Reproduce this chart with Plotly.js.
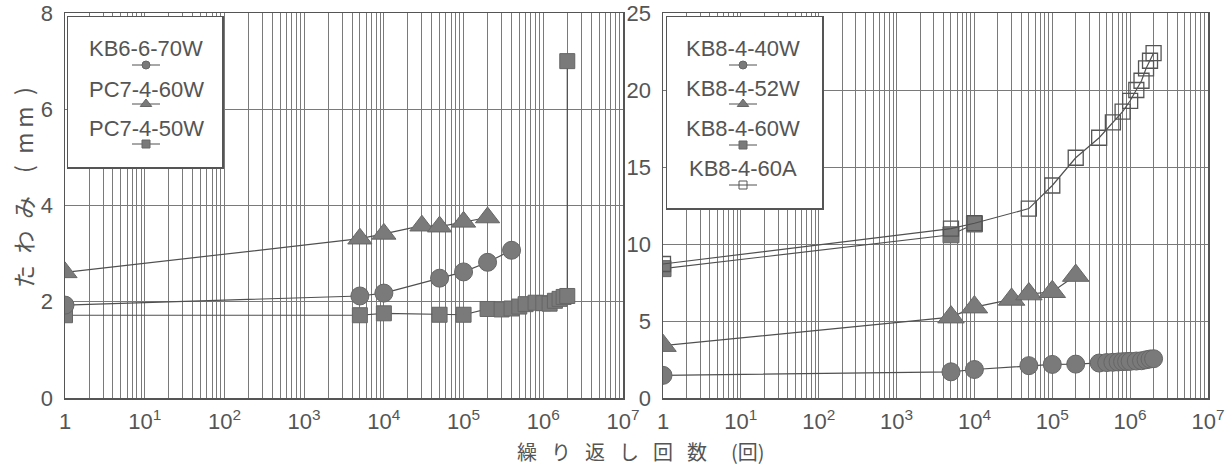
<!DOCTYPE html>
<html>
<head>
<meta charset="utf-8">
<script src="https://cdn.plot.ly/plotly-3.0.1.min.js"></script>
<style>
html,body{margin:0;padding:0;background:#fff;}
#chart{width:1229px;height:465px;}
</style>
</head>
<body>
<div id="chart"></div>
<script>
// ---------- data ----------
const decadeVals   = [1, 10, 100, 1000, 10000, 100000, 1000000, 10000000];
const decadeLabels = ['1', '10<sup>1</sup>', '10<sup>2</sup>', '10<sup>3</sup>', '10<sup>4</sup>', '10<sup>5</sup>', '10<sup>6</sup>', '10<sup>7</sup>'];

// left panel
const kb6Name = 'KB6-6-70W';
const kb6N = [1, 5000, 10000, 50000, 100000, 200000, 400000];
const kb6D = [1.93, 2.12, 2.18, 2.49, 2.62, 2.82, 3.07];

const pc60Name = 'PC7-4-60W';
const pc60N = [1, 5000, 10000, 30000, 50000, 100000, 200000];
const pc60D = [2.61, 3.31, 3.41, 3.58, 3.56, 3.66, 3.75];

const pc50Name = 'PC7-4-50W';
const pc50N = [1, 5000, 10000, 50000, 100000, 200000, 300000, 400000, 500000, 600000, 800000, 1000000, 1200000, 1400000, 1600000, 1800000, 2000000, 2000000];
const pc50D = [1.72, 1.72, 1.76, 1.73, 1.73, 1.85, 1.84, 1.86, 1.90, 1.95, 1.98, 1.97, 1.96, 2.02, 2.06, 2.10, 2.12, 7.0];

// right panel
const kb40Name = 'KB8-4-40W';
const kb40N = [1, 5000, 10000, 50000, 100000, 200000, 400000, 500000, 600000, 700000, 800000, 900000, 1000000, 1200000, 1400000, 1600000, 1800000, 2000000];
const kb40D = [1.47, 1.70, 1.85, 2.10, 2.18, 2.20, 2.27, 2.30, 2.32, 2.34, 2.36, 2.37, 2.38, 2.40, 2.42, 2.48, 2.53, 2.55];

const kb52Name = 'KB8-4-52W';
const kb52N = [1, 5000, 10000, 30000, 50000, 100000, 200000];
const kb52D = [3.4, 5.25, 5.9, 6.4, 6.75, 6.9, 7.95];

const kb60wName = 'KB8-4-60W';
const kb60wN = [1, 5000, 10000];
const kb60wD = [8.4, 10.6, 11.3];

const kb60aName = 'KB8-4-60A';
const kb60aN = [1, 5000, 10000, 50000, 100000, 200000, 400000, 600000, 800000, 1000000, 1200000, 1400000, 1600000, 1800000, 2000000];
const kb60aD = [8.7, 11.0, 11.35, 12.3, 13.8, 15.6, 16.9, 17.9, 18.6, 19.3, 20.0, 20.6, 21.4, 21.9, 22.4];

const xTitle = '繰\u2002\u2009り\u2002\u2009返\u2002\u2009し\u2002\u2009回\u2002\u2009数\u2003\u2009(回)';
const yTitle = 'た\u2002わ\u2002み\u2003(\u2002m\u2009m\u2002)';

// ---------- styling ----------
const W = 1229, H = 465;
const TXT = '#555';
const NUMFONT = "'Liberation Sans', Arial, sans-serif";
const CJKFONT = "'Noto Sans CJK JP', 'Noto Sans', sans-serif";
const GRID = '#7a7a7a';
const LINE = '#505050';
const FILL = '#7a7a7a';
const EDGE = '#666';

function px(x){ return x / W; }
function py(y){ return 1 - y / H; }

function series(n, d, name, symbol, size, xa, ya, open){
  return {
    x: n, y: d, name: name, xaxis: xa, yaxis: ya,
    type: 'scatter', mode: 'lines+markers',
    line: {color: LINE, width: 1.2},
    marker: open
      ? {symbol: symbol, size: size, color: 'rgba(0,0,0,0)', line: {color: '#555', width: 1.3}}
      : {symbol: symbol, size: size, color: FILL, line: {color: EDGE, width: 1}},
    showlegend: false, hoverinfo: 'skip'
  };
}

const traces = [
  series(pc50N, pc50D, pc50Name, 'square', 15, 'x', 'y'),
  series(pc60N, pc60D, pc60Name, 'triangle-up', 21, 'x', 'y'),
  series(kb6N,  kb6D,  kb6Name,  'circle', 18, 'x', 'y'),
  series(kb40N, kb40D, kb40Name, 'circle', 18, 'x2', 'y2'),
  series(kb52N, kb52D, kb52Name, 'triangle-up', 23, 'x2', 'y2'),
  series(kb60wN, kb60wD, kb60wName, 'square', 16, 'x2', 'y2'),
  series(kb60aN, kb60aD, kb60aName, 'square', 15, 'x2', 'y2', true)
];

// ---------- legend boxes (overlay subplots in pixel coordinates) ----------
const annotations = [];
function legendBox(items, xa, ya, cx){
  items.forEach(it => {
    annotations.push({
      xref: xa, yref: ya, x: cx, y: it.ty, text: it.name, showarrow: false,
      xanchor: 'center', yanchor: 'middle',
      font: {family: NUMFONT, size: 22, color: TXT}
    });
    traces.push({x: [cx - 14, cx + 14], y: [it.sy, it.sy], xaxis: xa, yaxis: ya, type: 'scatter', mode: 'lines',
      line: {color: LINE, width: 1}, showlegend: false, hoverinfo: 'skip'});
    traces.push({x: [cx], y: [it.sy], xaxis: xa, yaxis: ya, type: 'scatter', mode: 'markers',
      marker: it.open ? {symbol: it.sym, size: 8, color: 'rgba(0,0,0,0)', line: {color: '#555', width: 1}}
                      : {symbol: it.sym, size: it.sym === 'triangle-up' ? 10 : 8, color: FILL, line: {color: EDGE, width: 1}},
      showlegend: false, hoverinfo: 'skip'});
  });
}
legendBox([
  {name: kb6Name,  ty: 48,  sy: 65,  sym: 'circle'},
  {name: pc60Name, ty: 89,  sy: 104, sym: 'triangle-up'},
  {name: pc50Name, ty: 128, sy: 144, sym: 'square'}
], 'x3', 'y3', 146);
legendBox([
  {name: kb40Name,  ty: 48,  sy: 65,  sym: 'circle'},
  {name: kb52Name,  ty: 88,  sy: 104, sym: 'triangle-up'},
  {name: kb60wName, ty: 128, sy: 145, sym: 'square'},
  {name: kb60aName, ty: 168, sy: 185, sym: 'square', open: true}
], 'x4', 'y4', 743);

annotations.push({xref: 'paper', yref: 'paper', x: px(641), y: py(451), text: xTitle, showarrow: false,
  xanchor: 'center', yanchor: 'middle', font: {family: CJKFONT, size: 20, color: TXT}});
annotations.push({xref: 'paper', yref: 'paper', x: px(23), y: py(188), text: yTitle, showarrow: false,
  textangle: -90, xanchor: 'center', yanchor: 'middle', font: {family: CJKFONT, size: 23, color: TXT}});

function logAxis(domain, anchor){
  return {
    type: 'log', domain: domain, range: [0, 7], anchor: anchor,
    tickmode: 'array', tickvals: decadeVals, ticktext: decadeLabels,
    showgrid: true, gridcolor: GRID, gridwidth: 1,
    minor: {dtick: 'D1', showgrid: true, gridcolor: GRID, gridwidth: 1, ticks: ''},
    showline: true, mirror: true, linecolor: '#555', linewidth: 1.5,
    ticks: '', ticklabelstandoff: 3, zeroline: false, ticklabeloverflow: 'allow',
    tickfont: {family: NUMFONT, size: 22, color: TXT}
  };
}
function linAxis(domain, anchor, max, step){
  return {
    domain: domain, range: [0, max], anchor: anchor, tick0: 0, dtick: step,
    showgrid: true, gridcolor: GRID, gridwidth: 1,
    showline: true, mirror: true, linecolor: '#555', linewidth: 1.5,
    ticks: '', ticklabelstandoff: 6, zeroline: false, ticklabeloverflow: 'allow',
    tickfont: {family: NUMFONT, size: 22, color: TXT}
  };
}
function boxAxis(domain, range, anchor){
  return {domain: domain, range: range, anchor: anchor, showgrid: false, zeroline: false,
    showticklabels: false, ticks: '', showline: true, mirror: true, linecolor: '#555', linewidth: 1.5, fixedrange: true};
}

const layout = {
  width: W, height: H,
  margin: {l: 0, r: 0, t: 0, b: 0},
  paper_bgcolor: '#fff', plot_bgcolor: '#fff',
  showlegend: false,
  xaxis:  logAxis([px(65), px(623)], 'y'),
  yaxis:  linAxis([py(398), py(13)], 'x', 8, 2),
  xaxis2: logAxis([px(663), px(1208)], 'y2'),
  yaxis2: linAxis([py(398), py(13)], 'x2', 25, 5),
  xaxis3: boxAxis([px(68), px(222)], [68, 222], 'y3'),
  yaxis3: boxAxis([py(167), py(17)], [167, 17], 'x3'),
  xaxis4: boxAxis([px(667), px(822)], [667, 822], 'y4'),
  yaxis4: boxAxis([py(208), py(17)], [208, 17], 'x4'),
  annotations: annotations
};

Plotly.newPlot('chart', traces, layout, {displayModeBar: false, staticPlot: true});
</script>
</body>
</html>
